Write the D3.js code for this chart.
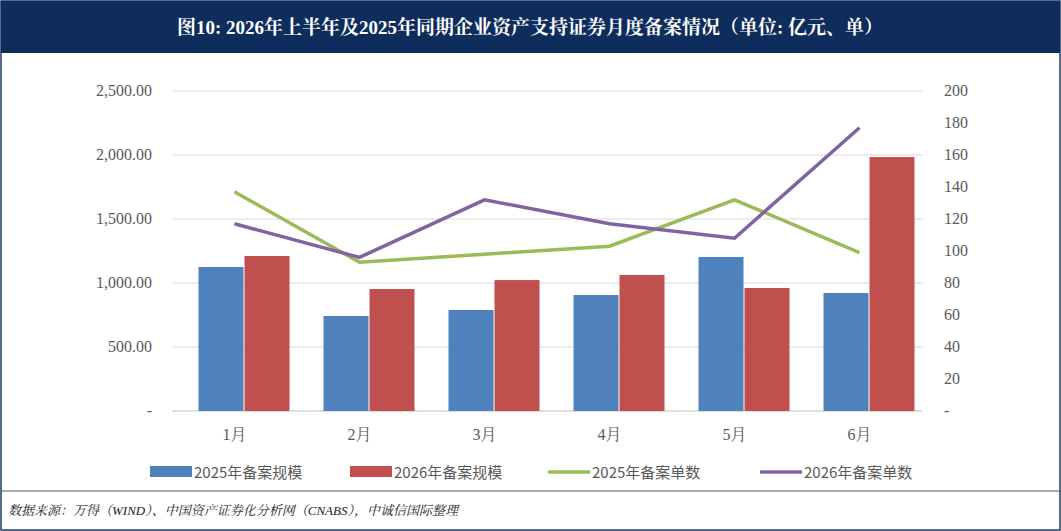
<!DOCTYPE html>
<html><head><meta charset="utf-8">
<script src="https://cdn.jsdelivr.net/npm/d3@7/dist/d3.min.js"></script>
<style>body{margin:0;background:#fff}svg{display:block}</style></head>
<body><svg id="c" width="1061" height="531"></svg>
<script>
const categories=["1月","2月","3月","4月","5月","6月"];
const scale2025=[1125,742,789,906,1203,922];
const scale2026=[1211,953,1023,1063,961,1984];
const count2025=[137,93,98,103,132,99];
const count2026=[117,96,132,117,108,177];
const leftTicks=[0,500,1000,1500,2000,2500];
const rightTicks=[0,20,40,60,80,100,120,140,160,180,200];
const seriesNames=["2025年备案规模","2026年备案规模","2025年备案单数","2026年备案单数"];
const colors=["#4f81bd","#c0504d","#9bbb59","#8064a2"];

const svg=d3.select("#c");
const serif="'Liberation Serif','Noto Serif CJK SC','Noto Sans CJK SC',serif";
svg.append("rect").attr("x",1).attr("y",1).attr("width",1059).attr("height",529).attr("fill","#fff").attr("stroke","#1f3864").attr("stroke-width",1.5);
svg.append("rect").attr("x",1).attr("y",1).attr("width",1059).attr("height",52).attr("fill","#0f2d5c");
svg.append("text").attr("x",530).attr("y",34).attr("text-anchor","middle").attr("fill","#fff")
 .attr("font-size",19).attr("font-weight","bold").attr("font-family",serif)
 .text("图10:  2026年上半年及2025年同期企业资产支持证券月度备案情况（单位:  亿元、单）");
svg.append("line").attr("x1",1).attr("x2",1060).attr("y1",491).attr("y2",491).attr("stroke","#555");
svg.append("text").attr("x",8).attr("y",515).attr("font-size",13).attr("font-style","italic").attr("font-family",serif).attr("fill","#222")
 .text("数据来源：万得（WIND）、中国资产证券化分析网（CNABS），中诚信国际整理");

const x=d3.scaleBand().domain(categories).range([172,922]);
const yL=d3.scaleLinear().domain([0,2500]).range([411,91]);
const yR=d3.scaleLinear().domain([0,200]).range([411,91]);
const g=svg.append("g");
leftTicks.forEach(t=>{
 g.append("line").attr("x1",172).attr("x2",922).attr("y1",yL(t)).attr("y2",yL(t)).attr("stroke",t?"#d9d9d9":"#bfbfbf");
 g.append("text").attr("x",152).attr("y",yL(t)+5).attr("text-anchor","end").attr("font-size",16).attr("font-family",serif).attr("fill","#595959")
  .text(t===0?"-":d3.format(",.2f")(t));
});
rightTicks.forEach(t=>{
 g.append("text").attr("x",944).attr("y",yR(t)+5).attr("font-size",16).attr("font-family",serif).attr("fill","#595959").text(t===0?"-":t);
});
categories.forEach(c=>{
 g.append("text").attr("x",x(c)+x.bandwidth()/2).attr("y",440).attr("text-anchor","middle").attr("font-size",16).attr("font-family",serif).attr("fill","#595959").text(c);
});
const bw=45;
[scale2025,scale2026].forEach((arr,i)=>{
 g.selectAll(null).data(arr).enter().append("rect")
  .attr("x",(d,j)=>x(categories[j])+x.bandwidth()/2-bw+9+i*(bw+1)).attr("width",bw)
  .attr("y",d=>yL(d)).attr("height",d=>411-yL(d)).attr("fill",colors[i]);
});
[count2025,count2026].forEach((arr,i)=>{
 g.append("path").datum(arr).attr("fill","none").attr("stroke",colors[i+2]).attr("stroke-width",3.5)
  .attr("d",d3.line().x((d,j)=>x(categories[j])+x.bandwidth()/2).y(d=>yR(d)));
});
const lx=[150,350,548,760];
seriesNames.forEach((n,i)=>{
 if(i<2) svg.append("rect").attr("x",lx[i]).attr("y",466).attr("width",42).attr("height",11).attr("fill",colors[i]);
 else svg.append("line").attr("x1",lx[i]).attr("x2",lx[i]+42).attr("y1",472).attr("y2",472).attr("stroke",colors[i]).attr("stroke-width",3.5);
 svg.append("text").attr("x",lx[i]+44).attr("y",478).attr("font-size",15).attr("font-family","'Noto Sans CJK SC',sans-serif").attr("fill","#595959").text(n);
});
</script></body></html>
